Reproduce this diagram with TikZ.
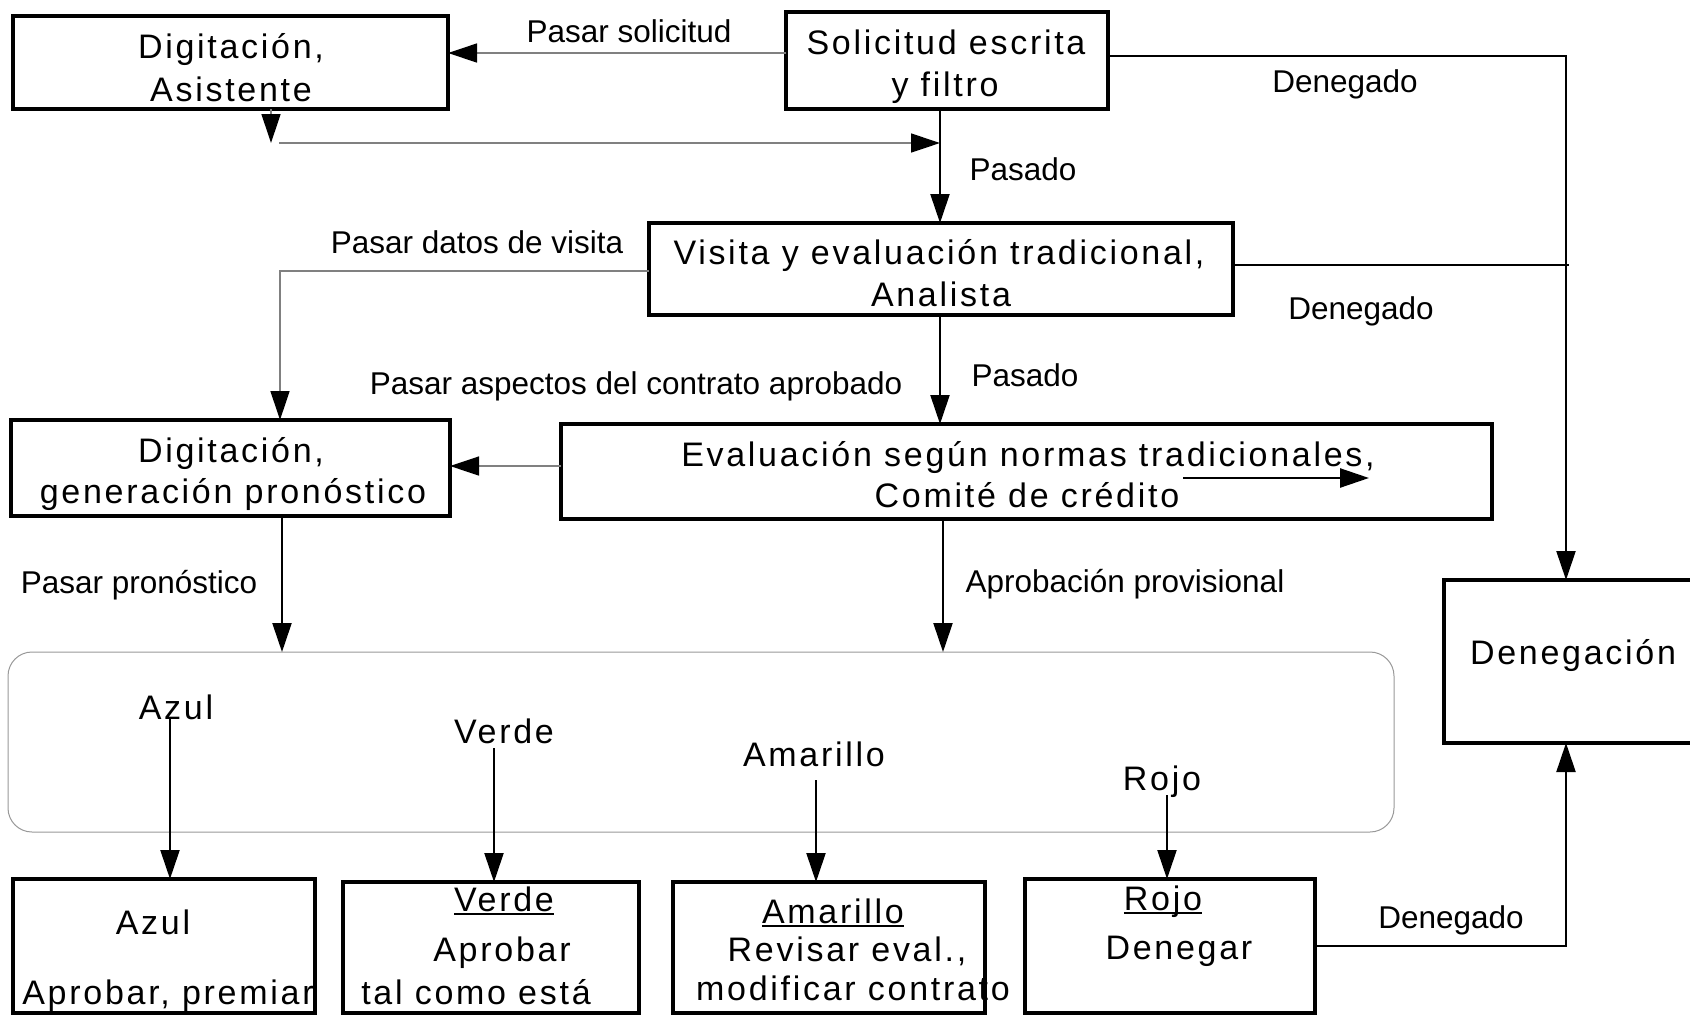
\documentclass[tikz,border=0pt]{standalone}
\usepackage{fontspec}
\setmainfont{Liberation Sans}
\newfontfamily\bxfont[LetterSpace=8]{Liberation Sans}
\usetikzlibrary{arrows.meta}
\newcommand\myul[1]{\setbox0\hbox{#1}\rlap{\rule[-4pt]{\wd0}{1.6pt}}\box0}
\tikzset{
 box/.style={draw=black, line width=4pt, rectangle, inner sep=0pt, outer sep=0pt, anchor=north west},
 rbox/.style={draw=black!40, line width=1pt, rounded corners=24pt, rectangle, inner sep=0pt, outer sep=0pt, anchor=north west},
 bt/.style={font=\fontsize{34}{42}\selectfont\bxfont, anchor=base, inner sep=0pt},
 lb/.style={font=\fontsize{31.5}{36}\selectfont, anchor=base, inner sep=0pt},
 tip/.style={-{Triangle[length=29pt,width=19pt,color=black]}},
 blk/.style={line width=2.2pt, draw=black, tip},
 gry/.style={line width=1.3pt, draw=black!50, tip},
 blkl/.style={line width=2.2pt, draw=black}
}
\begin{document}
\begin{tikzpicture}[x=1pt,y=-1pt]
\fill[white] (0,0) rectangle (1690,1015);
\useasboundingbox (0,0) rectangle (1690,1015);

% boxes
\node[box, minimum width=435pt, minimum height=93pt] (A) at (13,16) {};
\node[box, minimum width=322pt, minimum height=97pt] (B) at (786,12) {};
\node[box, minimum width=584pt, minimum height=92pt] (C) at (649,223) {};
\node[box, minimum width=439pt, minimum height=96pt] (D) at (11,420) {};
\node[box, minimum width=931pt, minimum height=95pt] (E) at (561,424) {};
\node[box, minimum width=300pt, minimum height=163pt] (F) at (1444,580) {};
\node[rbox, minimum width=1386pt, minimum height=180pt] (R) at (8,652) {};
\node[box, minimum width=302pt, minimum height=134pt] (G1) at (13,879) {};
\node[box, minimum width=296pt, minimum height=131pt] (G2) at (343,882) {};
\node[box, minimum width=312pt, minimum height=131pt] (G3) at (673,882) {};
\node[box, minimum width=290pt, minimum height=134pt] (G4) at (1025,879) {};

% box texts
\node[bt] (tA1) at (231,58) {Digitación,};
\node[bt] (tA2) at (231,101) {Asistente};
\node[bt] (tB1) at (946,54) {Solicitud escrita};
\node[bt] (tB2) at (945,96) {y filtro};
\node[bt] (tC1) at (939,264) {Visita y evaluación tradicional,};
\node[bt] (tC2) at (941,306) {Analista};
\node[bt] (tD1) at (231,462) {Digitación,};
\node[bt] (tD2) at (233,503) {generación pronóstico};
\node[bt] (tE1) at (1028,466) {Evaluación según normas tradicionales,};
\node[bt] (tE2) at (1027,507) {Comité de crédito};
\node[bt] (tF) at (1573,664) {Denegación};
\node[bt] (rAzul) at (176,719) {Azul};
\node[bt] (rVerde) at (504,743) {Verde};
\node[bt] (rAmar) at (814,766) {Amarillo};
\node[bt] (rRojo) at (1162,790) {Rojo};
\node[bt] (g1a) at (153,934) {Azul};
\node[bt] (g1b) at (168,1004) {Aprobar, premiar};
\node[bt] (g2a) at (504,911) {\myul{Verde}};
\node[bt] (g2b) at (502,961) {Aprobar};
\node[bt] (g2c) at (476,1004) {tal como está};
\node[bt] (g3a) at (833,923) {\myul{Amarillo}};
\node[bt] (g3b) at (847,961) {Revisar eval.,};
\node[bt] (g3c) at (853,1000) {modificar contrato};
\node[bt] (g4a) at (1163,910) {\myul{Rojo}};
\node[bt] (g4b) at (1179,959) {Denegar};

% labels
\node[lb] (l1) at (629,42) {Pasar solicitud};
\node[lb] (l2) at (1345,92) {Denegado};
\node[lb] (l3) at (1023,180) {Pasado};
\node[lb] (l4) at (477,253) {Pasar datos de visita};
\node[lb] (l5) at (1361,319) {Denegado};
\node[lb] (l6) at (636,394) {Pasar aspectos del contrato aprobado};
\node[lb] (l7) at (1025,386) {Pasado};
\node[lb] (l8) at (139,593) {Pasar pronóstico};
\node[lb] (l9) at (1125,592) {Aprobación provisional};
\node[lb] (l10) at (1451,928) {Denegado};

% helper coordinates
\coordinate (k1) at (271,143);
\coordinate (k2) at (279,143);
\coordinate (xP) at (940,0);
\coordinate (xR) at (1566,0);
\coordinate (xD) at (280,0);
\coordinate (xQ) at (282,0);
\coordinate (xS) at (943,0);
\coordinate (s1) at (1183,478);
\coordinate (s2) at (1369,478);
\coordinate (a1) at (170,718);
\coordinate (a2) at (494,748);
\coordinate (a3) at (816,780);
\coordinate (a4) at (1167,795);

% connectors
\draw[gry] (B.west |- 0,53) -- (A.east |- 0,53);
\draw[gry] (A.south -| k1) -- (k1);
\draw[gry] (k2) -- (xP |- k2);
\draw[blk] (B.south -| xP) -- (C.north -| xP);
\draw[blk] (B.east |- 0,56) -| (F.north -| xR);
\draw[blkl] (C.east |- 0,265) -- ([xshift=3pt]xR |- 0,265);
\draw[gry] (C.west |- 0,271) -| (D.north -| xD);
\draw[blk] (C.south -| xP) -- (E.north -| xP);
\draw[gry] (E.west |- 0,466) -- (D.east |- 0,466);
\draw[blk] (D.south -| xQ) -- (R.north -| xQ);
\draw[blk] (E.south -| xS) -- (R.north -| xS);
\draw[blk, line width=2.5pt] (s1) -- (s2);
\draw[blk] (a1) -- (G1.north -| a1);
\draw[blk] (a2) -- (G2.north -| a2);
\draw[blk] (a3) -- (G3.north -| a3);
\draw[blk] (a4) -- (G4.north -| a4);
\draw[blk] (G4.east |- 0,946) -| (F.south -| xR);
\end{tikzpicture}
\end{document}
